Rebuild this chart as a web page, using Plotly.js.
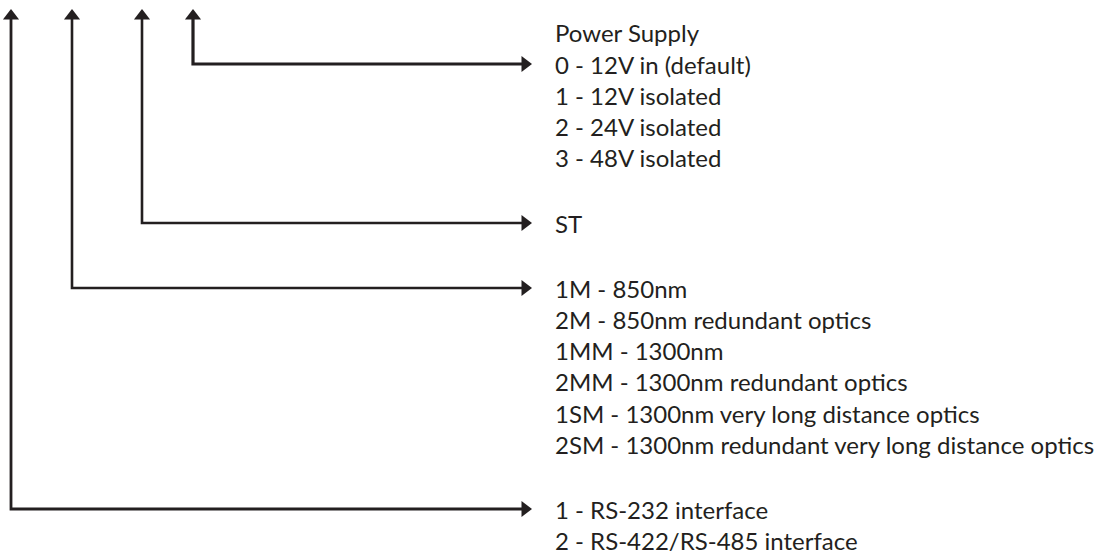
<!DOCTYPE html>
<html>
<head>
<meta charset="utf-8">
<script src="https://cdn.plot.ly/plotly-3.0.1.min.js"></script>
<style>
html,body{margin:0;padding:0;background:#fff;}
#chart{width:1106px;height:554px;}
</style>
</head>
<body>
<div id="chart"></div>
<script>
// Option groups (top to bottom)
const powerSupplyTitle = "Power Supply";
const powerSupplyOptions = ["0 - 12V in (default)", "1 - 12V isolated", "2 - 24V isolated", "3 - 48V isolated"];
const connectorOptions = ["ST"];
const opticsOptions = ["1M - 850nm", "2M - 850nm redundant optics", "1MM - 1300nm", "2MM - 1300nm redundant optics", "1SM - 1300nm very long distance optics", "2SM - 1300nm redundant very long distance optics"];
const interfaceOptions = ["1 - RS-232 interface", "2 - RS-422/RS-485 interface"];

// Diagram geometry (pixel-space axes)
const stemX = [193, 142, 72, 11];          // vertical stems: power, connector, optics, interface
const groupFirstY = [64, 223, 288, 509];     // y of the first option of each group (arrow level)
const lineGap = 31.3;
const stemTopY = 9;
const arrowTipX = 532;
const textX = 553;
const ink = "#231f20";

const groups = [powerSupplyOptions, connectorOptions, opticsOptions, interfaceOptions];
const stemWidths = [3.2, 2.6, 2.6, 2.8];

const traces = [];
const annotations = [];
const headSize = 14;
const r = headSize / 2;
const textFont = {family: "Lato, 'Open Sans', sans-serif", size: 24, color: ink};

groups.forEach((opts, g) => {
  const x0 = stemX[g], y0 = groupFirstY[g];
  // connector line: from top of stem down then right to arrow tip
  traces.push({
    x: [x0, x0, arrowTipX - 4],
    y: [stemTopY + 8, y0, y0],
    mode: "lines",
    line: {color: ink, width: stemWidths[g]},
    hoverinfo: "skip"
  });
  // up arrowhead
  traces.push({
    x: [x0], y: [stemTopY + r],
    mode: "markers",
    marker: {symbol: "triangle-up", size: headSize, color: ink, line: {width: 0}},
    hoverinfo: "skip"
  });
  // right arrowhead
  traces.push({
    x: [arrowTipX - r], y: [y0],
    mode: "markers",
    marker: {symbol: "triangle-right", size: headSize, color: ink, line: {width: 0}},
    hoverinfo: "skip"
  });
  opts.forEach((t, i) => {
    annotations.push({
      x: textX, y: y0 + i * lineGap, xref: "x", yref: "y",
      text: t, showarrow: false, xanchor: "left", yanchor: "middle",
      font: textFont
    });
  });
});

annotations.push({
  x: textX, y: groupFirstY[0] - lineGap, xref: "x", yref: "y",
  text: powerSupplyTitle, showarrow: false, xanchor: "left", yanchor: "middle",
  font: textFont
});

const layout = {
  width: 1106, height: 554,
  margin: {l: 0, r: 0, t: 0, b: 0},
  paper_bgcolor: "#ffffff", plot_bgcolor: "#ffffff",
  showlegend: false,
  xaxis: {range: [0, 1106], visible: false, fixedrange: true},
  yaxis: {range: [554, 0], visible: false, fixedrange: true},
  annotations: annotations
};

Plotly.newPlot("chart", traces, layout, {staticPlot: true, displayModeBar: false});
</script>
</body>
</html>
